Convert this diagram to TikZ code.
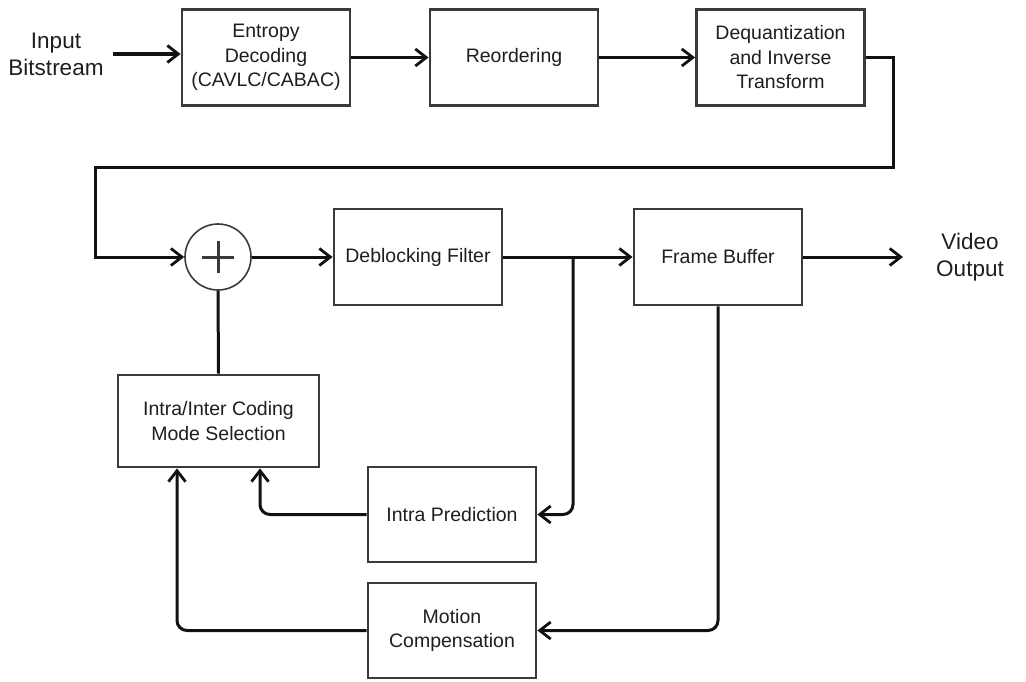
\documentclass[tikz,border=0pt]{standalone}
\usepackage{fontspec}
\setmainfont{Liberation Sans}
\usetikzlibrary{arrows.meta}
\definecolor{boxgray}{HTML}{3A3A3A}
\definecolor{inkline}{HTML}{111111}
\definecolor{txt}{HTML}{1E1E1E}
\begin{document}
\begin{tikzpicture}[x=1pt,y=-1pt,
  block/.style={draw=boxgray, line width=2.8pt, fill=white, text=txt,
    minimum width=168pt, minimum height=96pt, align=center, inner sep=0pt,
    font=\fontsize{19.5}{24.5}\selectfont},
  label/.style={text=txt, align=center, inner sep=3pt,
    font=\fontsize{22.5}{27}\selectfont},
  link/.style={draw=inkline, line width=3pt,
    -{Straight Barb[length=11pt,width=17pt,line width=2.8pt]}},
  plain/.style={draw=inkline, line width=3pt},
]
\useasboundingbox (0,0) rectangle (1026,682);

% upper chain
\node[label] (inp) at (56,54) {Input\\Bitstream};
\node[block] (ent) at (266,57.5) {Entropy\\Decoding\\(CAVLC/CABAC)};
\node[block] (reo) at (514,57.5) {Reordering};
\node[block] (deq) at (780.5,57.5) {Dequantization\\and Inverse\\Transform};

% middle row
\node[circle, draw=boxgray, line width=1.6pt, minimum size=66pt, inner sep=0pt] (sum) at (218,257) {};
\draw[line width=3pt, draw=boxgray] ([xshift=-16pt]sum.center) -- ([xshift=16pt]sum.center);
\draw[line width=3pt, draw=boxgray] ([yshift=-16pt]sum.center) -- ([yshift=16pt]sum.center);
\node[block] (deb) at (418,257) {Deblocking Filter};
\node[block] (fb) at (718,257) {Frame Buffer};
\node[label] (vout) at (970,257) {Video\\Output};

% lower blocks
\node[block, minimum width=201pt, minimum height=92pt] (mode) at (218.5,421) {Intra/Inter Coding\\Mode Selection};
\node[block, minimum height=95pt] (ip) at (452,514.5) {Intra Prediction};
\node[block, minimum height=95pt] (mc) at (452,630.5) {Motion\\Compensation};

% routing points
\coordinate (inStart) at (113,54);
\coordinate (loopR) at (893,168);
\coordinate (loopL) at (95,168);
\coordinate (split) at (573,257);
\coordinate (outEnd) at (903,257);

% connectors
\draw[link, line width=4pt] (inStart) -- (inStart -| ent.west);
\draw[link] (ent.east) -- (reo.west);
\draw[link] (reo.east) -- (deq.west);
\draw[link] (deq.east) -| (loopR) -- (loopL) |- (sum.west);
\draw[link] (sum.east) -- (deb.west);
\draw[link] (deb.east) -- (fb.west);
\draw[link] (fb.east) -- (outEnd);
\draw[link, rounded corners=10pt] (split) |- (ip.east);
\draw[link, rounded corners=10pt] (fb.south) |- (mc.east);
\draw[link, rounded corners=10pt] (ip.west) -| ([xshift=41.5pt]mode.south);
\draw[link, rounded corners=10pt] (mc.west) -| ([xshift=-41.5pt]mode.south);
\draw[plain] (mode.north) -- (sum.south);
\end{tikzpicture}
\end{document}
